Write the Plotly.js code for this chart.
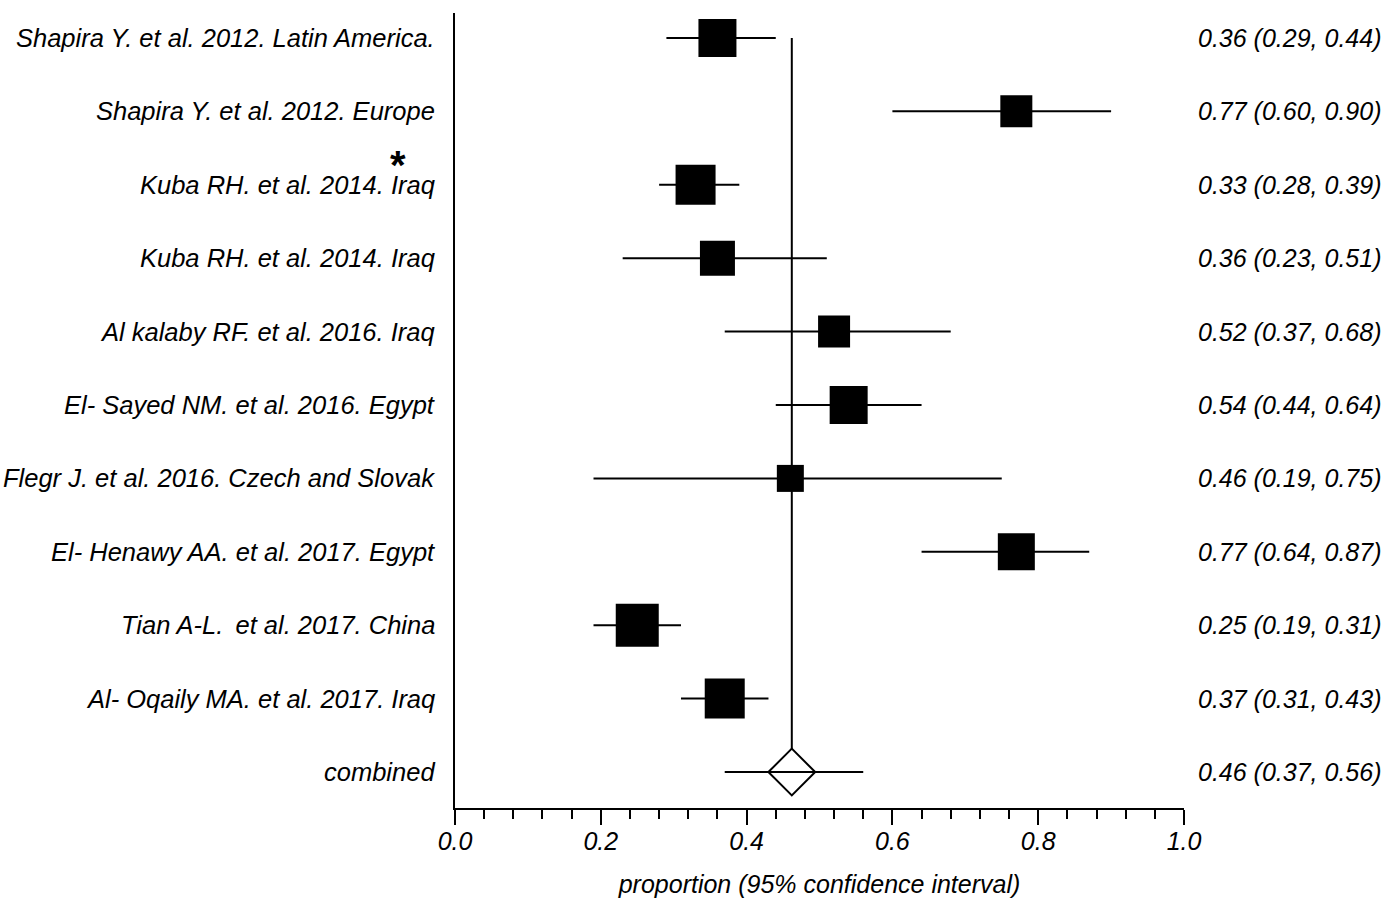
<!DOCTYPE html>
<html>
<head>
<meta charset="utf-8">
<script src="https://cdn.plot.ly/plotly-3.0.1.min.js"></script>
<style>
  html, body { margin: 0; padding: 0; background: #ffffff; }
  #chart { width: 1397px; height: 898px; }
</style>
</head>
<body>
<div id="chart"></div>
<script>
// ---- data ----
const studies = [
  "Shapira Y. et al. 2012. Latin America.",
  "Shapira Y. et al. 2012. Europe",
  "Kuba RH. et al. 2014. Iraq",
  "Kuba RH. et al. 2014. Iraq",
  "Al kalaby RF. et al. 2016. Iraq",
  "El- Sayed NM. et al. 2016. Egypt",
  "Flegr J. et al. 2016. Czech and Slovak",
  "El- Henawy AA. et al. 2017. Egypt",
  "Tian A-L. \u2009et al. 2017. China",
  "Al- Oqaily MA. et al. 2017. Iraq"
];
const estimate = [0.36, 0.77, 0.33, 0.36, 0.52, 0.54, 0.46, 0.77, 0.25, 0.37];
const lower    = [0.29, 0.60, 0.28, 0.23, 0.37, 0.44, 0.19, 0.64, 0.19, 0.31];
const upper    = [0.44, 0.90, 0.39, 0.51, 0.68, 0.64, 0.75, 0.87, 0.31, 0.43];
const weightSize = [38, 32, 40, 35, 32, 38, 27, 37, 43, 40];   // square size (px) ~ study weight
const valueLabels = [
  "0.36 (0.29, 0.44)", "0.77 (0.60, 0.90)", "0.33 (0.28, 0.39)", "0.36 (0.23, 0.51)",
  "0.52 (0.37, 0.68)", "0.54 (0.44, 0.64)", "0.46 (0.19, 0.75)", "0.77 (0.64, 0.87)",
  "0.25 (0.19, 0.31)", "0.37 (0.31, 0.43)"
];
const combinedLabel = "combined";
const combinedEst = 0.462;
const combinedLower = 0.37;
const combinedUpper = 0.56;
const combinedValueLabel = "0.46 (0.37, 0.56)";
const markedRow = 2;   // row flagged with an asterisk
const xTickVals = [0, 0.2, 0.4, 0.6, 0.8, 1.0];
const xTitle = "proportion (95% confidence interval)";

// ---- build ----
const rows = studies.map((_, i) => i);
const combinedRow = studies.length;
const FONT = "Liberation Sans, Arial, sans-serif";

const traces = [
  { // reference line at pooled estimate
    type: "scatter", mode: "lines",
    x: [combinedEst, combinedEst], y: [rows[0], combinedRow],
    line: { color: "black", width: 2 }, hoverinfo: "skip", showlegend: false
  },
  { // study estimates with CI
    type: "scatter", mode: "markers",
    x: estimate, y: rows,
    marker: { symbol: "square", size: weightSize, color: "black", opacity: 1, line: { width: 0 } },
    error_x: {
      type: "data", symmetric: false,
      array: estimate.map((e, i) => upper[i] - e),
      arrayminus: estimate.map((e, i) => e - lower[i]),
      width: 0, thickness: 2, color: "black"
    },
    showlegend: false
  },
  { // pooled diamond
    type: "scatter", mode: "markers",
    x: [combinedEst], y: [combinedRow],
    marker: { symbol: "diamond", size: 36, color: "white", opacity: 1, line: { color: "black", width: 2 } },
    showlegend: false
  },
  { // pooled CI
    type: "scatter", mode: "lines",
    x: [combinedLower, combinedUpper], y: [combinedRow, combinedRow],
    line: { color: "black", width: 2 }, showlegend: false
  }
];

const annotations = [];
studies.concat([combinedLabel]).forEach((s, i) => {
  annotations.push({
    xref: "paper", yref: "y", x: 0, y: i, xanchor: "right", yanchor: "middle",
    xshift: -18, text: s, showarrow: false,
    font: { family: FONT, size: 25.5, color: "black", style: "italic" }
  });
});
valueLabels.concat([combinedValueLabel]).forEach((s, i) => {
  annotations.push({
    xref: "paper", yref: "y", x: 1, y: i, xanchor: "left", yanchor: "middle",
    xshift: 12, text: s, showarrow: false,
    font: { family: FONT, size: 25, color: "black", style: "italic" }
  });
});
annotations.push({
  xref: "paper", yref: "y", x: 0, y: markedRow, xanchor: "center", yanchor: "middle",
  xshift: -57, yshift: 20, text: "<b>*</b>", showarrow: false,
  font: { family: FONT, size: 40, color: "black" }
});

const layout = {
  width: 1397, height: 898,
  margin: { l: 455, r: 213, t: 13, b: 90 },
  paper_bgcolor: "white", plot_bgcolor: "white",
  showlegend: false,
  xaxis: {
    range: [0, 1], tickvals: xTickVals, tickformat: ".1f",
    showgrid: false, zeroline: false,
    showline: true, linecolor: "black", linewidth: 2,
    ticks: "outside", ticklen: 15, tickwidth: 2, tickcolor: "black",
    ticklabelstandoff: -5,
    minor: { dtick: 0.04, tick0: 0, ticks: "outside", ticklen: 9, tickwidth: 2, tickcolor: "black", showgrid: false },
    tickfont: { family: FONT, size: 25, color: "black", style: "italic" },
    title: { text: xTitle, standoff: 25, font: { family: FONT, size: 25, color: "black", style: "italic" } },
    fixedrange: true
  },
  yaxis: {
    range: [10.49, -0.34],
    showgrid: false, zeroline: false, showticklabels: false, ticks: "",
    showline: true, linecolor: "black", linewidth: 2,
    fixedrange: true
  },
  annotations: annotations
};

Plotly.newPlot("chart", traces, layout, { displayModeBar: false, staticPlot: true });
</script>
</body>
</html>
